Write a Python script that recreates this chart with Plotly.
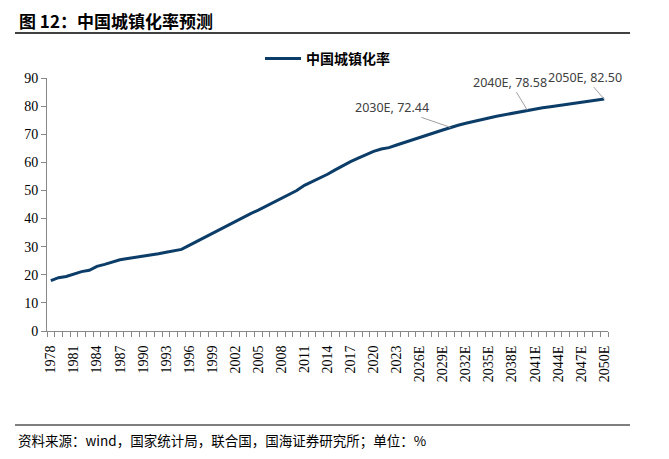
import plotly.graph_objects as go

years = list(range(1978, 2051))
tick_years = list(range(1978, 2051, 3))
tick_labels = [str(y) if y <= 2023 else f"{y}E" for y in tick_years]

urban_rate = [
    17.92, 18.96, 19.39, 20.16, 21.13, 21.62, 23.01, 23.71, 24.52, 25.32,
    25.81, 26.21, 26.41, 26.94, 27.46, 27.99, 28.51, 29.04, 30.48, 31.91,
    33.35, 34.78, 36.22, 37.66, 39.09, 40.53, 41.76, 42.99, 44.34, 45.89,
    46.99, 48.34, 49.95, 51.83, 53.10, 54.49, 55.75, 57.33, 58.84, 60.24,
    61.50, 62.71, 63.89, 64.72, 65.22, 66.16,
    67.0, 67.9, 68.8, 69.7, 70.6, 71.5, 72.44,
    73.2, 73.9, 74.6, 75.2, 75.8, 76.4, 76.9, 77.5, 78.0, 78.58,
    79.0, 79.4, 79.8, 80.2, 80.6, 81.0, 81.4, 81.8, 82.1, 82.50,
]

label_years = [2030, 2040, 2050]
label_offsets = [(-58, -20), (-17, -28), (-19, -22)]

series_name = "中国城镇化率"
title_text = "图 12：中国城镇化率预测"
source_text = "资料来源：wind，国家统计局，联合国，国海证券研究所；单位：%"

# page body has an 8px margin; compensate so the figure lands like the reference
OFF = 8
W, H = 669 - OFF, 459 - OFF
L, R, T, B = 47 - OFF, 608 - OFF, 78 - OFF, 331 - OFF

def px(X):
    return (X - OFF - L) / (R - L)

def py(Y):
    return (B - (Y - OFF)) / (B - T)

fig = go.Figure()
fig.add_trace(go.Scatter(
    x=years, y=urban_rate, mode="lines", name=f"<b>{series_name}</b>",
    line=dict(color="#0b3d68", width=3),
))

annotations = []
for yr, (ax, ay) in zip(label_years, label_offsets):
    v = urban_rate[years.index(yr)]
    annotations.append(dict(
        x=yr, y=v, xref="x", yref="y",
        text=f"{yr}E, {v:.2f}", showarrow=True, arrowhead=0,
        arrowwidth=1, arrowcolor="#a0a0a0", ax=ax, ay=ay,
        font=dict(family="Noto Sans, DejaVu Sans", size=12.5, color="#404040"),
        standoff=0,
    ))

annotations.append(dict(
    x=px(17), y=py(20), xref="paper", yref="paper", xanchor="left", yanchor="middle",
    text=f"<b>{title_text}</b>", showarrow=False,
    font=dict(family="Noto Sans CJK SC", size=17, color="#000000"),
))
annotations.append(dict(
    x=px(16), y=py(440), xref="paper", yref="paper", xanchor="left", yanchor="middle",
    text=source_text, showarrow=False,
    font=dict(family="Noto Sans CJK SC", size=13.5, color="#000000"),
))

shapes = [
    dict(type="line", xref="paper", yref="paper", x0=px(15), x1=px(630), y0=py(33), y1=py(33),
         line=dict(color="#000000", width=1.5)),
    dict(type="line", xref="paper", yref="paper", x0=px(15), x1=px(630), y0=py(425), y1=py(425),
         line=dict(color="#000000", width=1.2)),
]

fig.update_layout(
    width=W, height=H,
    margin=dict(l=L, r=W - R, t=T, b=H - B, pad=0),
    plot_bgcolor="white", paper_bgcolor="white",
    showlegend=True,
    legend=dict(orientation="h", x=0.5, xanchor="center", y=py(59), yanchor="middle",
                font=dict(family="Noto Sans CJK SC", size=14, color="#000000"),
                itemwidth=36),
    annotations=annotations,
    shapes=shapes,
)

fig.update_xaxes(
    range=[1977.5, 2050.5], tickmode="array", tickvals=tick_years, ticktext=tick_labels,
    tickangle=-90, ticks="", showgrid=False, zeroline=False,
    showline=True, linecolor="#888888", linewidth=1, ticklabelstandoff=8,
    tickfont=dict(family="Liberation Serif", size=14, color="#000000"),
    minor=dict(ticks="outside", tick0=1977.5, dtick=1, ticklen=5, tickcolor="#888888", showgrid=False),
)
fig.update_yaxes(
    range=[0, 90], dtick=10, ticks="outside", ticklen=5, tickcolor="#888888",
    showgrid=False, zeroline=False, showline=True, linecolor="#888888", linewidth=1,
    tickfont=dict(family="Liberation Serif", size=14, color="#000000"),
)

fig.write_html("out.html")
